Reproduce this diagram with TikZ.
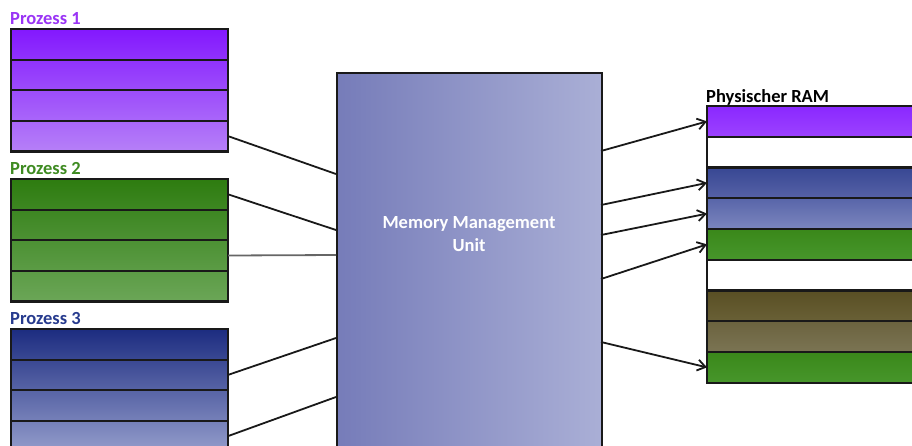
\documentclass[tikz,border=0pt]{standalone}
\usepackage{fontspec}
\setmainfont{Carlito}
\usepackage{tikz}
\usetikzlibrary{arrows.meta}

% Colours of the three processes (top and bottom of each stack)
\definecolor{pOneTop}{HTML}{8318FE}
\definecolor{pOneBot}{HTML}{B680F8}
\definecolor{pOneLabel}{HTML}{9A35F5}
\definecolor{pTwoTop}{HTML}{2E7C10}
\definecolor{pTwoBot}{HTML}{6BA657}
\definecolor{pTwoLabel}{HTML}{3F8B22}
\definecolor{pThreeTop}{HTML}{1C2C80}
\definecolor{pThreeBot}{HTML}{939CCB}
\definecolor{pThreeLabel}{HTML}{273B8E}
% Memory management unit
\definecolor{mmuLeft}{HTML}{767CB9}
\definecolor{mmuRight}{HTML}{AAAFD6}
% Physical RAM
\definecolor{ramPurpleA}{HTML}{8A28FF}
\definecolor{ramPurpleB}{HTML}{9C42FF}
\definecolor{ramBlueA}{HTML}{374793}
\definecolor{ramBlueB}{HTML}{5662A7}
\definecolor{ramBlueC}{HTML}{5865A9}
\definecolor{ramBlueD}{HTML}{7C86BE}
\definecolor{ramGreenA}{HTML}{3A881A}
\definecolor{ramGreenB}{HTML}{47962B}
\definecolor{ramOliveA}{HTML}{594F24}
\definecolor{ramOliveB}{HTML}{696036}
\definecolor{ramOliveC}{HTML}{6B633F}
\definecolor{ramOliveD}{HTML}{7B7453}

\tikzset{
    rowbox/.style={draw=black!90, line width=2.2pt, minimum width=217pt,
        minimum height=30.6pt, inner sep=0pt, outer sep=0pt, anchor=north west},
    ramrow/.style={rowbox, minimum width=240pt, minimum height=30.75pt},
    plabel/.style={font=\fontsize{18.5}{23}\selectfont\bfseries,
        anchor=base west, inner sep=0pt},
    mmubox/.style={draw=black!90, line width=2.4pt, minimum width=265pt,
        minimum height=420pt, inner sep=0pt, anchor=north west,
        left color=mmuLeft, right color=mmuRight},
    link/.style={line width=1.8pt, black!90},
}

\begin{document}
\begin{tikzpicture}[x=1pt, y=-1pt, >={Straight Barb[length=8pt,width=11pt]}]
    \useasboundingbox (0,0) rectangle (912,445);

    % Draw the memory management unit
    \node[mmubox] (mmu) at (336,72) {};
    \node[plabel, anchor=center, align=center, text=white] (mmutext) at (469,234)
        {Memory Management\\Unit};

    % Points on the sides of the unit
    \coordinate (mIn1) at (336,174);
    \coordinate (mIn2) at (336,230);
    \coordinate (mIn3) at (336,255);
    \coordinate (mIn4) at (336,338);
    \coordinate (mIn5) at (336,397);
    \coordinate (mOut1) at (601,151);
    \coordinate (mOut2) at (601,205);
    \coordinate (mOut3) at (601,235);
    \coordinate (mOut4) at (601,279);
    \coordinate (mOut5) at (601,342);

    % Draw the pages of each process
    \foreach \p/\ctop/\cbot/\clab in {1/pOneTop/pOneBot/pOneLabel,
            2/pTwoTop/pTwoBot/pTwoLabel, 3/pThreeTop/pThreeBot/pThreeLabel} {
        \pgfmathsetmacro\ystack{29+150*(\p-1)}
        \node[plabel, text=\clab] (label-\p) at (10,\ystack-5) {Prozess \p};
        \foreach \k in {1,...,4} {
            \pgfmathtruncatemacro\fa{25*(\k-1)}
            \pgfmathtruncatemacro\fb{25*\k}
            \node[rowbox, top color=\cbot!\fa!\ctop, bottom color=\cbot!\fb!\ctop]
                (p\p-\k) at (11,\ystack+30.6*\k-30.6) {};
        }
    }

    % Draw the physical RAM
    \node[plabel] (ramlabel) at (706,102) {Physischer RAM};
    \foreach \k/\ctop/\cbot in {1/ramPurpleA/ramPurpleB, 2/white/white,
            3/ramBlueA/ramBlueB, 4/ramBlueC/ramBlueD, 5/ramGreenA/ramGreenB,
            6/white/white, 7/ramOliveA/ramOliveB, 8/ramOliveC/ramOliveD,
            9/ramGreenA/ramGreenB} {
        \node[ramrow, top color=\ctop, bottom color=\cbot]
            (ram-\k) at (707,106+30.75*\k-30.75) {};
    }

    % Pages into the unit
    \foreach \src/\dst in {p1-4/mIn1, p2-1/mIn2, p3-2/mIn4, p3-4/mIn5} {
        \draw[link] (\src.east) -- (\dst);
    }
    \draw[link, black!60] (p2-3.east) -- (mIn3);

    % Unit onto the frames
    \foreach \src/\dst in {mOut1/ram-1, mOut2/ram-3, mOut3/ram-4,
            mOut4/ram-5, mOut5/ram-9} {
        \draw[link, ->] (\src) -- (\dst.west);
    }
\end{tikzpicture}
\end{document}
